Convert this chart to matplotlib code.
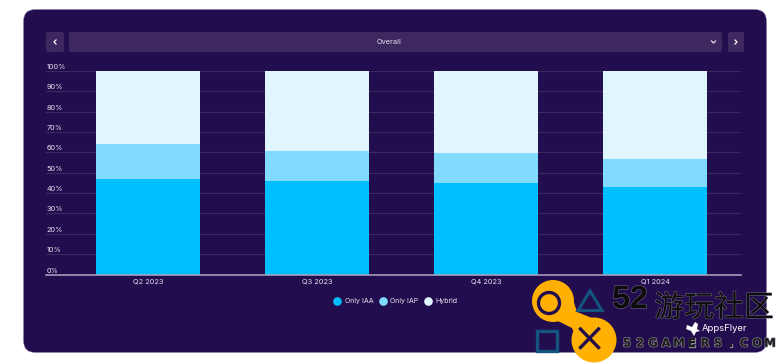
import matplotlib
matplotlib.use("Agg")
import matplotlib.pyplot as plt
import matplotlib.patheffects as pe
from matplotlib.patches import FancyBboxPatch, Circle, Rectangle, Polygon
from matplotlib.lines import Line2D
from matplotlib.transforms import ScaledTranslation
import numpy as np

plt.rcParams['font.family'] = ['Inter', 'Noto Sans CJK SC', 'DejaVu Sans']

quarters = ["Q2 2023", "Q3 2023", "Q4 2023", "Q1 2024"]
only_iaa = [47, 46, 45, 43]
only_iap = [17.3, 14.7, 14.7, 14]
hybrid = [35.7, 39.3, 40.3, 43]
y_ticks = list(range(0, 101, 10))
y_labels = [f"{v}%" for v in y_ticks]
series_names = ["Only IAA", "Only IAP", "Hybrid"]
colors = ["#00BFFF", "#80DBFF", "#DFF6FF"]
selector_label = "Overall"

W, H = 780, 363
BG = "#220D4E"
BTN = "#3D2860"
TXT = "#E6E0EE"
fig = plt.figure(figsize=(W / 100, H / 100), dpi=100, facecolor="white")

# pixel-space layer
bgax = fig.add_axes([0, 0, 1, 1], zorder=0)
bgax.set_xlim(0, W); bgax.set_ylim(H, 0); bgax.axis("off")
bgax.add_patch(FancyBboxPatch((23.5, 9.5), 743, 343,
                              boxstyle="round,pad=0,rounding_size=12",
                              fc=BG, ec="#8F84A8", lw=0.3))
for (x, y, w, h) in [(46, 32, 18, 20), (69, 32, 653, 20), (728, 32, 16, 20)]:
    bgax.add_patch(FancyBboxPatch((x, y), w, h, boxstyle="round,pad=0,rounding_size=2",
                                  fc=BTN, ec="none"))
bgax.plot([56, 54, 56], [40, 42, 44], color="white", lw=0.9)
bgax.plot([735, 737, 735], [40, 42, 44], color="white", lw=0.9)
bgax.plot([711.5, 713.5, 715.5], [41, 43, 41], color="#E6E0EE", lw=0.9)
bgax.text(389, 41.7, selector_label, color=TXT, fontsize=5.3, ha="center", va="center")

# chart axes
L, R, T, B = 46, 741, 71, 274.5
ax = fig.add_axes([L / W, 1 - B / H, (R - L) / W, (B - T) / H], zorder=1)
ax.patch.set_alpha(0)
x = np.arange(len(quarters))
ax.set_xlim((L - 148) / 169, (R - 148) / 169)
ax.set_ylim(0, 100)
bw = 104 / 169
iaa = np.array(only_iaa, float); iap = np.array(only_iap, float); hyb = np.array(hybrid, float)
ax.bar(x, iaa, bw, color=colors[0], zorder=3)
ax.bar(x, iap, bw, bottom=iaa, color=colors[1], zorder=3)
ax.bar(x, hyb, bw, bottom=iaa + iap, color=colors[2], zorder=3)
ax.set_yticks(y_ticks)
ax.set_yticklabels(y_labels)
ax.set_xticks(x)
ax.set_xticklabels(quarters)
ax.grid(axis="y", color="#3D2860", lw=0.8, zorder=1)
ax.set_axisbelow(True)
ax.tick_params(axis="both", length=0, colors=TXT, labelsize=5.3)
ax.tick_params(axis="x", pad=3.2)
for s in ("top", "right", "left"):
    ax.spines[s].set_visible(False)
ax.spines["bottom"].set_color("#B0A6C4")
ax.spines["bottom"].set_linewidth(1.1)
ax.spines["bottom"].set_zorder(4)
ax.tick_params(axis="y", pad=0)
lab_tr = ax.get_yaxis_transform() + ScaledTranslation(0.5 / 72, 0.7 / 72, fig.dpi_scale_trans)
for lab in ax.get_yticklabels():
    lab.set_ha("left")
    lab.set_va("bottom")
    lab.set_transform(lab_tr)
    lab.set_x(0)

handles = [Line2D([], [], ls="", marker="o", ms=5.2, color=c, label=n)
           for c, n in zip(colors, series_names)]
fig.legend(handles=handles, loc="center", bbox_to_anchor=(395.5 / W, 1 - 301.5 / H), ncol=3,
           frameon=False, fontsize=5.1, labelcolor=TXT, handletextpad=0.45,
           columnspacing=0.85, borderpad=0, handlelength=1.1)

# watermark layer
top = fig.add_axes([0, 0, 1, 1], zorder=5)
top.set_xlim(0, W); top.set_ylim(H, 0); top.axis("off"); top.set_aspect("equal")
YEL = "#FFB000"; TEAL = "#14557F"
top.add_patch(Circle((553, 301), 21, fc=YEL, ec="none"))
top.add_patch(Circle((594, 340), 22.5, fc=YEL, ec="none"))
top.add_patch(Polygon([[570, 290], [577, 312], [592, 318], [577, 340], [572, 328], [560, 322], [540, 315]],
                      fc=YEL, ec="none"))
top.add_patch(Circle((549, 303), 10.5, fc="none", ec=BG, lw=2.4))
top.add_patch(Polygon([[590, 291], [602, 310.5], [578, 310.5]], fc="none", ec=TEAL, lw=2.2))
top.add_patch(Rectangle((537, 331), 20, 20, fc="none", ec=TEAL, lw=2.4))
top.add_line(Line2D([580.5, 598.5], [329, 347.5], color=BG, lw=2.4))
top.add_line(Line2D([598.5, 580.5], [329, 347.5], color=BG, lw=2.4))

outline = [pe.withStroke(linewidth=0.7, foreground="#77708A")]
top.text(630, 300, "52", color="#0C0C0C", fontsize=23, fontweight="bold", ha="center", va="center",
         family="Liberation Sans", path_effects=outline)
top.text(714, 308, "游玩社区", color="#0C0C0C", fontsize=21.5, ha="center", va="center",
         family="Noto Sans CJK SC", path_effects=outline)
for i, ch in enumerate("52GAMERS.COM"):
    top.text(627 + i * 13.0, 343.2, ch, color="#1C1C1C", fontsize=8.5, fontweight="bold", ha="center",
             va="center", family="DejaVu Sans",
             path_effects=[pe.withStroke(linewidth=0.9, foreground="#8D8A96")])
top.text(702, 328.5, "AppsFlyer", color="white", fontsize=6.8, ha="left", va="center")
top.add_patch(Polygon([[687, 325], [692, 327], [695, 322], [698, 324], [697, 329], [700, 331],
                      [696, 332], [694, 336], [691, 331], [686, 329]], fc="white", ec="none"))
fig.savefig("out.png", dpi=100, facecolor="white")
